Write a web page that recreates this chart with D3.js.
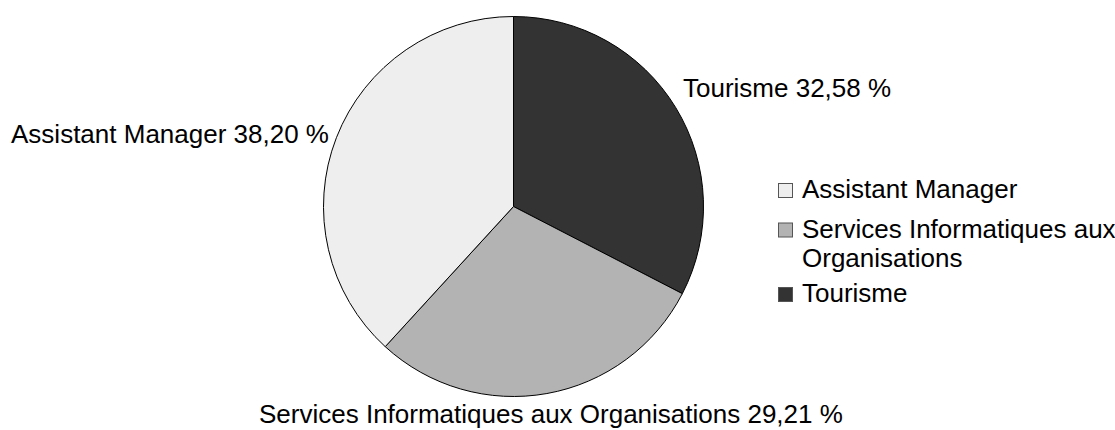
<!DOCTYPE html>
<html>
<head>
<meta charset="utf-8">
<script src="https://cdn.jsdelivr.net/npm/d3@7"></script>
<style>
  body { margin: 0; background: #fff; }
  text { font-family: "Liberation Sans", Arial, sans-serif; fill: #000; }
</style>
</head>
<body>
<svg id="chart" width="1115" height="430"></svg>
<script>
const categories = ['Tourisme', 'Services Informatiques aux Organisations', 'Assistant Manager'];
const values = [32.58, 29.21, 38.20];
const colors = ['#333333', '#b3b3b3', '#eeeeee'];

const cx = 513.5, cy = 206.5, r = 190;
const fontSize = 26;

const svg = d3.select('#chart');
const data = categories.map((c, i) => ({ name: c, value: values[i], color: colors[i] }));

const pie = d3.pie().value(d => d.value).sort(null);
const arc = d3.arc().innerRadius(0).outerRadius(r);
const arcs = pie(data);

const g = svg.append('g').attr('transform', 'translate(' + cx + ',' + cy + ')');
g.selectAll('path')
  .data(arcs)
  .join('path')
  .attr('d', arc)
  .attr('fill', d => d.data.color)
  .attr('stroke', '#000')
  .attr('stroke-width', 1);

const fmt = v => d3.format('.2f')(v).replace('.', ',') + ' %';

// labels outside slices
const labelPos = {
  'Tourisme': { x: 683, y: 96.5, anchor: 'start' },
  'Services Informatiques aux Organisations': { x: 259, y: 423, anchor: 'start' },
  'Assistant Manager': { x: 329, y: 143, anchor: 'end' }
};
svg.selectAll('text.lbl')
  .data(data)
  .join('text')
  .attr('class', 'lbl')
  .attr('x', d => labelPos[d.name].x)
  .attr('y', d => labelPos[d.name].y)
  .attr('text-anchor', d => labelPos[d.name].anchor)
  .style('font-size', fontSize + 'px')
  .text(d => d.name + ' ' + fmt(d.value));

// legend
const legendItems = [
  { name: 'Assistant Manager', lines: ['Assistant Manager'], y: 198 },
  { name: 'Services Informatiques aux Organisations', lines: ['Services Informatiques aux', 'Organisations'], y: 237.5 },
  { name: 'Tourisme', lines: ['Tourisme'], y: 302 }
];
const colorOf = d3.scaleOrdinal().domain(categories).range(colors);
const leg = svg.append('g');
legendItems.forEach(item => {
  leg.append('rect')
    .attr('x', 778.5).attr('y', item.y - 14.5)
    .attr('width', 14).attr('height', 14)
    .attr('fill', colorOf(item.name))
    .attr('stroke', '#555').attr('stroke-width', 1);
  const t = leg.append('text')
    .attr('x', 802).attr('y', item.y)
    .style('font-size', fontSize + 'px');
  item.lines.forEach((ln, i) => {
    t.append('tspan').attr('x', 802).attr('dy', i ? 29 : 0).text(ln);
  });
});
</script>
</body>
</html>
